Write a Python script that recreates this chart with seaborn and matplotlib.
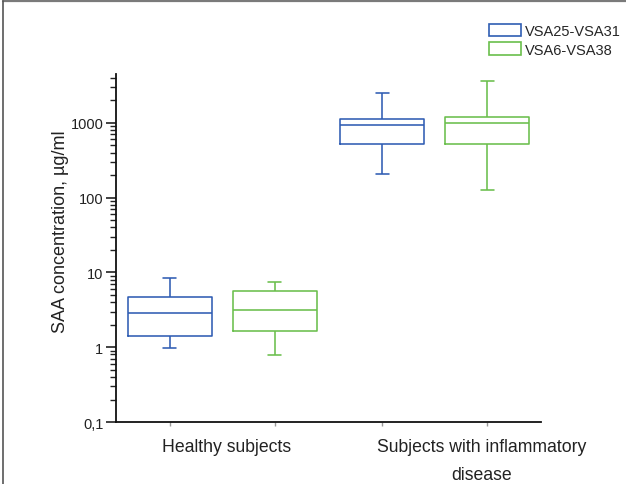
import numpy as np
import pandas as pd
import seaborn as sns
import matplotlib.pyplot as plt
from matplotlib.patches import Patch
from matplotlib.lines import Line2D
from matplotlib import ticker

# groups on the x axis and the two antibody pairs
groups = ["Healthy subjects", "Subjects with inflammatory\ndisease"]
pairs = ["VSA25-VSA31", "VSA6-VSA38"]

# five-number summaries: min, q1, median, q3, max (µg/ml)
healthy_vsa25 = [0.97, 1.42, 2.84, 4.64, 8.4]
healthy_vsa6 = [0.78, 1.65, 3.11, 5.58, 7.36]
disease_vsa25 = [209, 514, 929, 1130, 2512]
disease_vsa6 = [128, 525, 1000, 1188, 3664]

yticks = [0.1, 1, 10, 100, 1000]
ytick_labels = ["0,1", "1", "10", "100", "1000"]

colors = ["#2f5db3", "#6abf4c"]

rows = []
for g, p, vals in [(groups[0], pairs[0], healthy_vsa25),
                   (groups[0], pairs[1], healthy_vsa6),
                   (groups[1], pairs[0], disease_vsa25),
                   (groups[1], pairs[1], disease_vsa6)]:
    for v in vals:
        rows.append({"group": g, "pair": p, "value": v})
df = pd.DataFrame(rows)

sns.set_style("ticks")
plt.rcParams["font.family"] = ["Liberation Sans", "DejaVu Sans"]

fig = plt.figure(figsize=(6.26, 4.85), dpi=100)
ax = fig.add_axes([0.1853, 0.1278, 0.6789, 0.7176])

width = 0.99
sns.boxplot(data=df, x="group", y="value", hue="pair", order=groups, hue_order=pairs,
            palette=colors, fill=False, width=width, gap=0.2, whis=(0, 100),
            linewidth=1.15, log_scale=True, legend=False, ax=ax, capwidths=0.06)

ax.set_ylim(0.1, 4500)
ax.set_xlim(-0.5, 1.5)
ax.yaxis.set_major_locator(ticker.FixedLocator(yticks))
ax.yaxis.set_major_formatter(ticker.FixedFormatter(ytick_labels))
ax.yaxis.set_minor_locator(ticker.LogLocator(base=10, subs=np.arange(2, 10), numticks=20))
ax.yaxis.set_minor_formatter(ticker.NullFormatter())
ax.tick_params(axis="y", which="major", length=7, width=1.2, labelsize=10.5, colors="#222222", pad=2)
ax.tick_params(axis="y", which="minor", length=4, width=1.0, color="#222222")

# small ticks under each box, labels written separately
off = width / 4
ax.set_xticks([-off, off, 1 - off, 1 + off])
ax.set_xticklabels([])
ax.tick_params(axis="x", which="major", length=3, width=1.0, color="#999999")
ax.tick_params(axis="x", which="minor", length=0)
ax.set_xlabel("")
ax.text(0.02, -0.046, groups[0], transform=ax.get_xaxis_transform(), ha="center", va="top",
        fontsize=12.7, color="#222222")
ax.text(1.22, -0.046, groups[1], transform=ax.get_xaxis_transform(), ha="center", va="top",
        fontsize=12.7, color="#222222", linespacing=1.85)

ax.set_ylabel("SAA concentration, µg/ml", fontsize=13, color="#222222")
ax.yaxis.set_label_coords(-0.11, 0.55)

sns.despine(ax=ax)
for s in ["left", "bottom"]:
    ax.spines[s].set_linewidth(1.3)
    ax.spines[s].set_color("#111111")

handles = [Patch(facecolor="white", edgecolor=c, linewidth=1.2) for c in colors]
fig.legend(handles, pairs, loc="upper left", bbox_to_anchor=(489 / 626, 1 - 25 / 485),
           frameon=False, fontsize=10.5, handlelength=2.2, handleheight=0.9,
           handletextpad=0.25, labelspacing=0.3, borderpad=0, borderaxespad=0)

# frame lines at the top and left edge of the picture
fig.add_artist(Line2D([0.005, 1], [0.995, 0.995], color="#7a7a7a", linewidth=1.6, transform=fig.transFigure))
fig.add_artist(Line2D([0.005, 0.005], [0, 0.995], color="#555555", linewidth=1.2, transform=fig.transFigure))

fig.savefig("out.png", dpi=100)
